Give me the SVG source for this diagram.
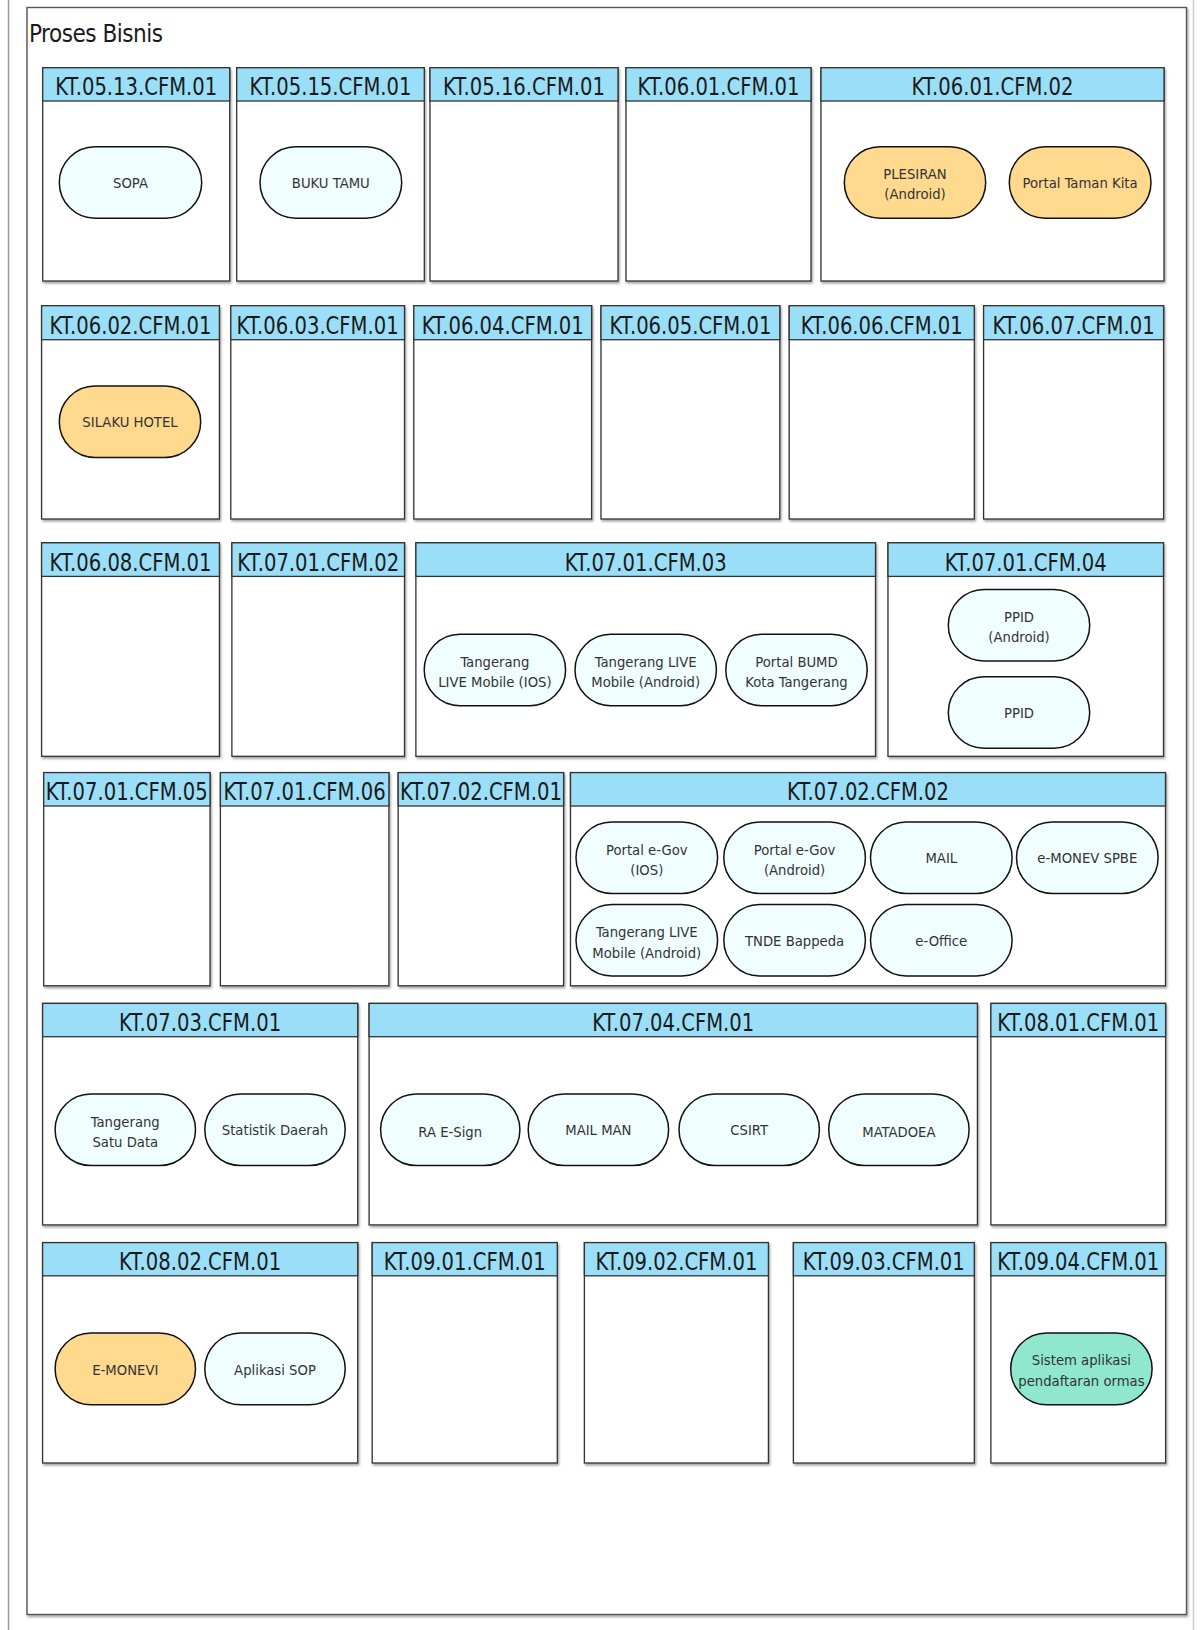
<svg xmlns="http://www.w3.org/2000/svg" width="1203" height="1630" viewBox="0 0 1203 1630">
<defs>
<filter id="sh" x="-5%" y="-5%" width="110%" height="110%">
<feDropShadow dx="1.2" dy="2" stdDeviation="0.8" flood-color="#000" flood-opacity="0.35"/>
</filter>
<style>
.frame{fill:#fff;stroke:#555;stroke-width:1.4}
.box{fill:#fff;stroke:#333;stroke-width:1.3}
.hdr{fill:#9ADFF7;stroke:#333;stroke-width:1.3}
.ht{font-family:"Liberation Sans Narrow","DejaVu Sans Condensed","Liberation Sans",sans-serif;font-size:25px;fill:#1a1a1a;text-anchor:middle}
.pill{stroke:#111;stroke-width:1.5}
.c{fill:#F0FEFF}
.y{fill:#FFD98E}
.g{fill:#8FE8CD}
.pt{font-family:"Liberation Sans Narrow","DejaVu Sans Condensed","Liberation Sans",sans-serif;font-size:14.7px;fill:#333;text-anchor:middle}
.title{font-family:"Liberation Sans Narrow","DejaVu Sans Condensed","Liberation Sans",sans-serif;font-size:24px;fill:#1a1a1a}
</style>
</defs>
<rect width="1203" height="1630" fill="#fff"/>
<line x1="8.5" y1="0" x2="8.5" y2="1630" stroke="#999" stroke-width="1.5"/>
<line x1="1193.5" y1="0" x2="1193.5" y2="1630" stroke="#ccc" stroke-width="1.5"/>

<g id="proses-bisnis">
<rect class="frame" x="27" y="7.5" width="1159.5" height="1607" filter="url(#sh)"/>
<text class="title" x="29" y="41.7" textLength="134">Proses Bisnis</text>
</g>

<!-- Row 1 -->
<g id="kt-05-13-cfm-01">
<rect class="box" x="42.7" y="67.7" width="187" height="213.3" filter="url(#sh)"/>
<rect class="hdr" x="42.7" y="67.7" width="187" height="33.3"/>
<text class="ht" x="136.2" y="95" textLength="162" lengthAdjust="spacingAndGlyphs">KT.05.13.CFM.01</text>
</g>
<g id="kt-05-15-cfm-01">
<rect class="box" x="236.7" y="67.7" width="187.6" height="213.3" filter="url(#sh)"/>
<rect class="hdr" x="236.7" y="67.7" width="187.6" height="33.3"/>
<text class="ht" x="330.5" y="95" textLength="162" lengthAdjust="spacingAndGlyphs">KT.05.15.CFM.01</text>
</g>
<g id="kt-05-16-cfm-01">
<rect class="box" x="430" y="67.7" width="188" height="213.3" filter="url(#sh)"/>
<rect class="hdr" x="430" y="67.7" width="188" height="33.3"/>
<text class="ht" x="524" y="95" textLength="162" lengthAdjust="spacingAndGlyphs">KT.05.16.CFM.01</text>
</g>
<g id="kt-06-01-cfm-01">
<rect class="box" x="626" y="67.7" width="185" height="213.3" filter="url(#sh)"/>
<rect class="hdr" x="626" y="67.7" width="185" height="33.3"/>
<text class="ht" x="718.5" y="95" textLength="162" lengthAdjust="spacingAndGlyphs">KT.06.01.CFM.01</text>
</g>
<g id="kt-06-01-cfm-02">
<rect class="box" x="821" y="67.7" width="343" height="213.3" filter="url(#sh)"/>
<rect class="hdr" x="821" y="67.7" width="343" height="33.3"/>
<text class="ht" x="992.5" y="95" textLength="162" lengthAdjust="spacingAndGlyphs">KT.06.01.CFM.02</text>
</g>

<!-- Row 2 -->
<g id="kt-06-02-cfm-01">
<rect class="box" x="41.6" y="305.7" width="177.8" height="213.3" filter="url(#sh)"/>
<rect class="hdr" x="41.6" y="305.7" width="177.8" height="34"/>
<text class="ht" x="130.5" y="333.5" textLength="162" lengthAdjust="spacingAndGlyphs">KT.06.02.CFM.01</text>
</g>
<g id="kt-06-03-cfm-01">
<rect class="box" x="230.8" y="305.7" width="173.7" height="213.3" filter="url(#sh)"/>
<rect class="hdr" x="230.8" y="305.7" width="173.7" height="34"/>
<text class="ht" x="317.6" y="333.5" textLength="162" lengthAdjust="spacingAndGlyphs">KT.06.03.CFM.01</text>
</g>
<g id="kt-06-04-cfm-01">
<rect class="box" x="413.8" y="305.7" width="177.8" height="213.3" filter="url(#sh)"/>
<rect class="hdr" x="413.8" y="305.7" width="177.8" height="34"/>
<text class="ht" x="502.7" y="333.5" textLength="162" lengthAdjust="spacingAndGlyphs">KT.06.04.CFM.01</text>
</g>
<g id="kt-06-05-cfm-01">
<rect class="box" x="601" y="305.7" width="178.8" height="213.3" filter="url(#sh)"/>
<rect class="hdr" x="601" y="305.7" width="178.8" height="34"/>
<text class="ht" x="690.4" y="333.5" textLength="162" lengthAdjust="spacingAndGlyphs">KT.06.05.CFM.01</text>
</g>
<g id="kt-06-06-cfm-01">
<rect class="box" x="789.2" y="305.7" width="185.1" height="213.3" filter="url(#sh)"/>
<rect class="hdr" x="789.2" y="305.7" width="185.1" height="34"/>
<text class="ht" x="881.7" y="333.5" textLength="162" lengthAdjust="spacingAndGlyphs">KT.06.06.CFM.01</text>
</g>
<g id="kt-06-07-cfm-01">
<rect class="box" x="983.6" y="305.7" width="180" height="213.3" filter="url(#sh)"/>
<rect class="hdr" x="983.6" y="305.7" width="180" height="34"/>
<text class="ht" x="1073.6" y="333.5" textLength="162" lengthAdjust="spacingAndGlyphs">KT.06.07.CFM.01</text>
</g>

<!-- Row 3 -->
<g id="kt-06-08-cfm-01">
<rect class="box" x="41.6" y="542.8" width="177.8" height="213.5" filter="url(#sh)"/>
<rect class="hdr" x="41.6" y="542.8" width="177.8" height="33.6"/>
<text class="ht" x="130.5" y="570.5" textLength="162" lengthAdjust="spacingAndGlyphs">KT.06.08.CFM.01</text>
</g>
<g id="kt-07-01-cfm-02">
<rect class="box" x="231.9" y="542.8" width="172.6" height="213.5" filter="url(#sh)"/>
<rect class="hdr" x="231.9" y="542.8" width="172.6" height="33.6"/>
<text class="ht" x="318.2" y="570.5" textLength="162" lengthAdjust="spacingAndGlyphs">KT.07.01.CFM.02</text>
</g>
<g id="kt-07-01-cfm-03">
<rect class="box" x="415.9" y="542.8" width="459.6" height="213.5" filter="url(#sh)"/>
<rect class="hdr" x="415.9" y="542.8" width="459.6" height="33.6"/>
<text class="ht" x="645.7" y="570.5" textLength="162" lengthAdjust="spacingAndGlyphs">KT.07.01.CFM.03</text>
</g>
<g id="kt-07-01-cfm-04">
<rect class="box" x="888" y="542.8" width="275.5" height="213.5" filter="url(#sh)"/>
<rect class="hdr" x="888" y="542.8" width="275.5" height="33.6"/>
<text class="ht" x="1025.7" y="570.5" textLength="162" lengthAdjust="spacingAndGlyphs">KT.07.01.CFM.04</text>
</g>

<!-- Row 4 -->
<g id="kt-07-01-cfm-05">
<rect class="box" x="43.7" y="772.6" width="166.3" height="213.2" filter="url(#sh)"/>
<rect class="hdr" x="43.7" y="772.6" width="166.3" height="33.4"/>
<text class="ht" x="126.8" y="800.3" textLength="162" lengthAdjust="spacingAndGlyphs">KT.07.01.CFM.05</text>
</g>
<g id="kt-07-01-cfm-06">
<rect class="box" x="220.4" y="772.6" width="168.5" height="213.2" filter="url(#sh)"/>
<rect class="hdr" x="220.4" y="772.6" width="168.5" height="33.4"/>
<text class="ht" x="304.6" y="800.3" textLength="162" lengthAdjust="spacingAndGlyphs">KT.07.01.CFM.06</text>
</g>
<g id="kt-07-02-cfm-01">
<rect class="box" x="398.2" y="772.6" width="165.4" height="213.2" filter="url(#sh)"/>
<rect class="hdr" x="398.2" y="772.6" width="165.4" height="33.4"/>
<text class="ht" x="480.9" y="800.3" textLength="162" lengthAdjust="spacingAndGlyphs">KT.07.02.CFM.01</text>
</g>
<g id="kt-07-02-cfm-02">
<rect class="box" x="570.5" y="772.6" width="595" height="213.2" filter="url(#sh)"/>
<rect class="hdr" x="570.5" y="772.6" width="595" height="33.4"/>
<text class="ht" x="868" y="800.3" textLength="162" lengthAdjust="spacingAndGlyphs">KT.07.02.CFM.02</text>
</g>

<!-- Row 5 -->
<g id="kt-07-03-cfm-01">
<rect class="box" x="42.6" y="1003.4" width="315.1" height="221.5" filter="url(#sh)"/>
<rect class="hdr" x="42.6" y="1003.4" width="315.1" height="33.3"/>
<text class="ht" x="200.1" y="1031" textLength="162" lengthAdjust="spacingAndGlyphs">KT.07.03.CFM.01</text>
</g>
<g id="kt-07-04-cfm-01">
<rect class="box" x="369.1" y="1003.4" width="608.3" height="221.5" filter="url(#sh)"/>
<rect class="hdr" x="369.1" y="1003.4" width="608.3" height="33.3"/>
<text class="ht" x="673.2" y="1031" textLength="162" lengthAdjust="spacingAndGlyphs">KT.07.04.CFM.01</text>
</g>
<g id="kt-08-01-cfm-01">
<rect class="box" x="990.9" y="1003.4" width="174.7" height="221.5" filter="url(#sh)"/>
<rect class="hdr" x="990.9" y="1003.4" width="174.7" height="33.3"/>
<text class="ht" x="1078.2" y="1031" textLength="162" lengthAdjust="spacingAndGlyphs">KT.08.01.CFM.01</text>
</g>

<!-- Row 6 -->
<g id="kt-08-02-cfm-01">
<rect class="box" x="42.6" y="1242.6" width="315.1" height="220.4" filter="url(#sh)"/>
<rect class="hdr" x="42.6" y="1242.6" width="315.1" height="33.2"/>
<text class="ht" x="200.1" y="1270.2" textLength="162" lengthAdjust="spacingAndGlyphs">KT.08.02.CFM.01</text>
</g>
<g id="kt-09-01-cfm-01">
<rect class="box" x="372.2" y="1242.6" width="185.1" height="220.4" filter="url(#sh)"/>
<rect class="hdr" x="372.2" y="1242.6" width="185.1" height="33.2"/>
<text class="ht" x="464.7" y="1270.2" textLength="162" lengthAdjust="spacingAndGlyphs">KT.09.01.CFM.01</text>
</g>
<g id="kt-09-02-cfm-01">
<rect class="box" x="584.4" y="1242.6" width="184" height="220.4" filter="url(#sh)"/>
<rect class="hdr" x="584.4" y="1242.6" width="184" height="33.2"/>
<text class="ht" x="676.4" y="1270.2" textLength="162" lengthAdjust="spacingAndGlyphs">KT.09.02.CFM.01</text>
</g>
<g id="kt-09-03-cfm-01">
<rect class="box" x="793.4" y="1242.6" width="180.9" height="220.4" filter="url(#sh)"/>
<rect class="hdr" x="793.4" y="1242.6" width="180.9" height="33.2"/>
<text class="ht" x="883.8" y="1270.2" textLength="162" lengthAdjust="spacingAndGlyphs">KT.09.03.CFM.01</text>
</g>
<g id="kt-09-04-cfm-01">
<rect class="box" x="990.9" y="1242.6" width="174.7" height="220.4" filter="url(#sh)"/>
<rect class="hdr" x="990.9" y="1242.6" width="174.7" height="33.2"/>
<text class="ht" x="1078.2" y="1270.2" textLength="162" lengthAdjust="spacingAndGlyphs">KT.09.04.CFM.01</text>
</g>

<!-- Application nodes -->
<g id="sopa"><rect class="pill c" x="59.3" y="146.7" width="142.4" height="71.6" rx="35.8"/><text class="pt" x="130.5" y="188">SOPA</text></g>
<g id="buku-tamu"><rect class="pill c" x="260" y="146.7" width="141.7" height="71.6" rx="35.8"/><text class="pt" x="330.8" y="188">BUKU TAMU</text></g>
<g id="plesiran"><rect class="pill y" x="844.3" y="146.7" width="141.4" height="71.6" rx="35.8"/><text class="pt" x="915" y="179">PLESIRAN</text><text class="pt" x="915" y="199">(Android)</text></g>
<g id="portal-taman-kita"><rect class="pill y" x="1009.3" y="146.7" width="141.7" height="71.6" rx="35.8"/><text class="pt" x="1080.1" y="188">Portal Taman Kita</text></g>

<g id="silaku-hotel"><rect class="pill y" x="59.3" y="386" width="141.4" height="71.5" rx="35.7"/><text class="pt" x="130" y="427.2">SILAKU HOTEL</text></g>

<g id="tangerang-live-ios"><rect class="pill c" x="424.2" y="634.3" width="141.4" height="71.5" rx="35.7"/><text class="pt" x="494.9" y="666.5">Tangerang</text><text class="pt" x="494.9" y="687">LIVE Mobile (IOS)</text></g>
<g id="tangerang-live-android-1"><rect class="pill c" x="575" y="634.3" width="141.4" height="71.5" rx="35.7"/><text class="pt" x="645.7" y="666.5">Tangerang LIVE</text><text class="pt" x="645.7" y="687">Mobile (Android)</text></g>
<g id="portal-bumd"><rect class="pill c" x="725.8" y="634.3" width="141.4" height="71.5" rx="35.7"/><text class="pt" x="796.5" y="666.5">Portal BUMD</text><text class="pt" x="796.5" y="687">Kota Tangerang</text></g>
<g id="ppid-android"><rect class="pill c" x="948.3" y="589.5" width="141.4" height="71.5" rx="35.7"/><text class="pt" x="1019" y="621.5">PPID</text><text class="pt" x="1019" y="642">(Android)</text></g>
<g id="ppid"><rect class="pill c" x="948.3" y="676.8" width="141.4" height="71.5" rx="35.7"/><text class="pt" x="1019" y="718">PPID</text></g>

<g id="portal-egov-ios"><rect class="pill c" x="576" y="822" width="141.6" height="71.4" rx="35.7"/><text class="pt" x="646.8" y="854.5">Portal e-Gov</text><text class="pt" x="646.8" y="875">(IOS)</text></g>
<g id="portal-egov-android"><rect class="pill c" x="723.8" y="822" width="141.6" height="71.4" rx="35.7"/><text class="pt" x="794.6" y="854.5">Portal e-Gov</text><text class="pt" x="794.6" y="875">(Android)</text></g>
<g id="mail"><rect class="pill c" x="870.5" y="822" width="141.6" height="71.4" rx="35.7"/><text class="pt" x="941.3" y="863">MAIL</text></g>
<g id="emonev-spbe"><rect class="pill c" x="1016.5" y="822" width="141.6" height="71.4" rx="35.7"/><text class="pt" x="1087.3" y="863">e-MONEV SPBE</text></g>
<g id="tangerang-live-android-2"><rect class="pill c" x="576" y="904.5" width="141.6" height="71.4" rx="35.7"/><text class="pt" x="646.8" y="937">Tangerang LIVE</text><text class="pt" x="646.8" y="957.5">Mobile (Android)</text></g>
<g id="tnde-bappeda"><rect class="pill c" x="723.8" y="904.5" width="141.6" height="71.4" rx="35.7"/><text class="pt" x="794.6" y="945.5">TNDE Bappeda</text></g>
<g id="e-office"><rect class="pill c" x="870.5" y="904.5" width="141.6" height="71.4" rx="35.7"/><text class="pt" x="941.3" y="945.5">e-Office</text></g>

<g id="tangerang-satu-data"><rect class="pill c" x="55.1" y="1094" width="140.4" height="71.6" rx="35.8"/><text class="pt" x="125.3" y="1126.5">Tangerang</text><text class="pt" x="125.3" y="1147">Satu Data</text></g>
<g id="statistik-daerah"><rect class="pill c" x="204.8" y="1094" width="140.4" height="71.6" rx="35.8"/><text class="pt" x="275" y="1135.3">Statistik Daerah</text></g>
<g id="ra-esign"><rect class="pill c" x="380.6" y="1094" width="139.3" height="71.6" rx="35.8"/><text class="pt" x="450.2" y="1136.5">RA E-Sign</text></g>
<g id="mail-man"><rect class="pill c" x="528.2" y="1094" width="140.4" height="71.6" rx="35.8"/><text class="pt" x="598.4" y="1135.3">MAIL MAN</text></g>
<g id="csirt"><rect class="pill c" x="679" y="1094" width="140.4" height="71.6" rx="35.8"/><text class="pt" x="749.2" y="1135.3">CSIRT</text></g>
<g id="matadoea"><rect class="pill c" x="828.7" y="1094" width="140.4" height="71.6" rx="35.8"/><text class="pt" x="898.9" y="1136.5">MATADOEA</text></g>

<g id="e-monevi"><rect class="pill y" x="55.1" y="1333" width="140.4" height="71.8" rx="35.9"/><text class="pt" x="125.3" y="1374.5">E-MONEVI</text></g>
<g id="aplikasi-sop"><rect class="pill c" x="204.8" y="1333" width="140.4" height="71.8" rx="35.9"/><text class="pt" x="275" y="1374.5">Aplikasi SOP</text></g>
<g id="sistem-aplikasi-ormas"><rect class="pill g" x="1010.7" y="1333" width="141.4" height="71.8" rx="35.9"/><text class="pt" x="1081.4" y="1365">Sistem aplikasi</text><text class="pt" x="1081.4" y="1385.5">pendaftaran ormas</text></g>

<g id="connectors"/>
</svg>
